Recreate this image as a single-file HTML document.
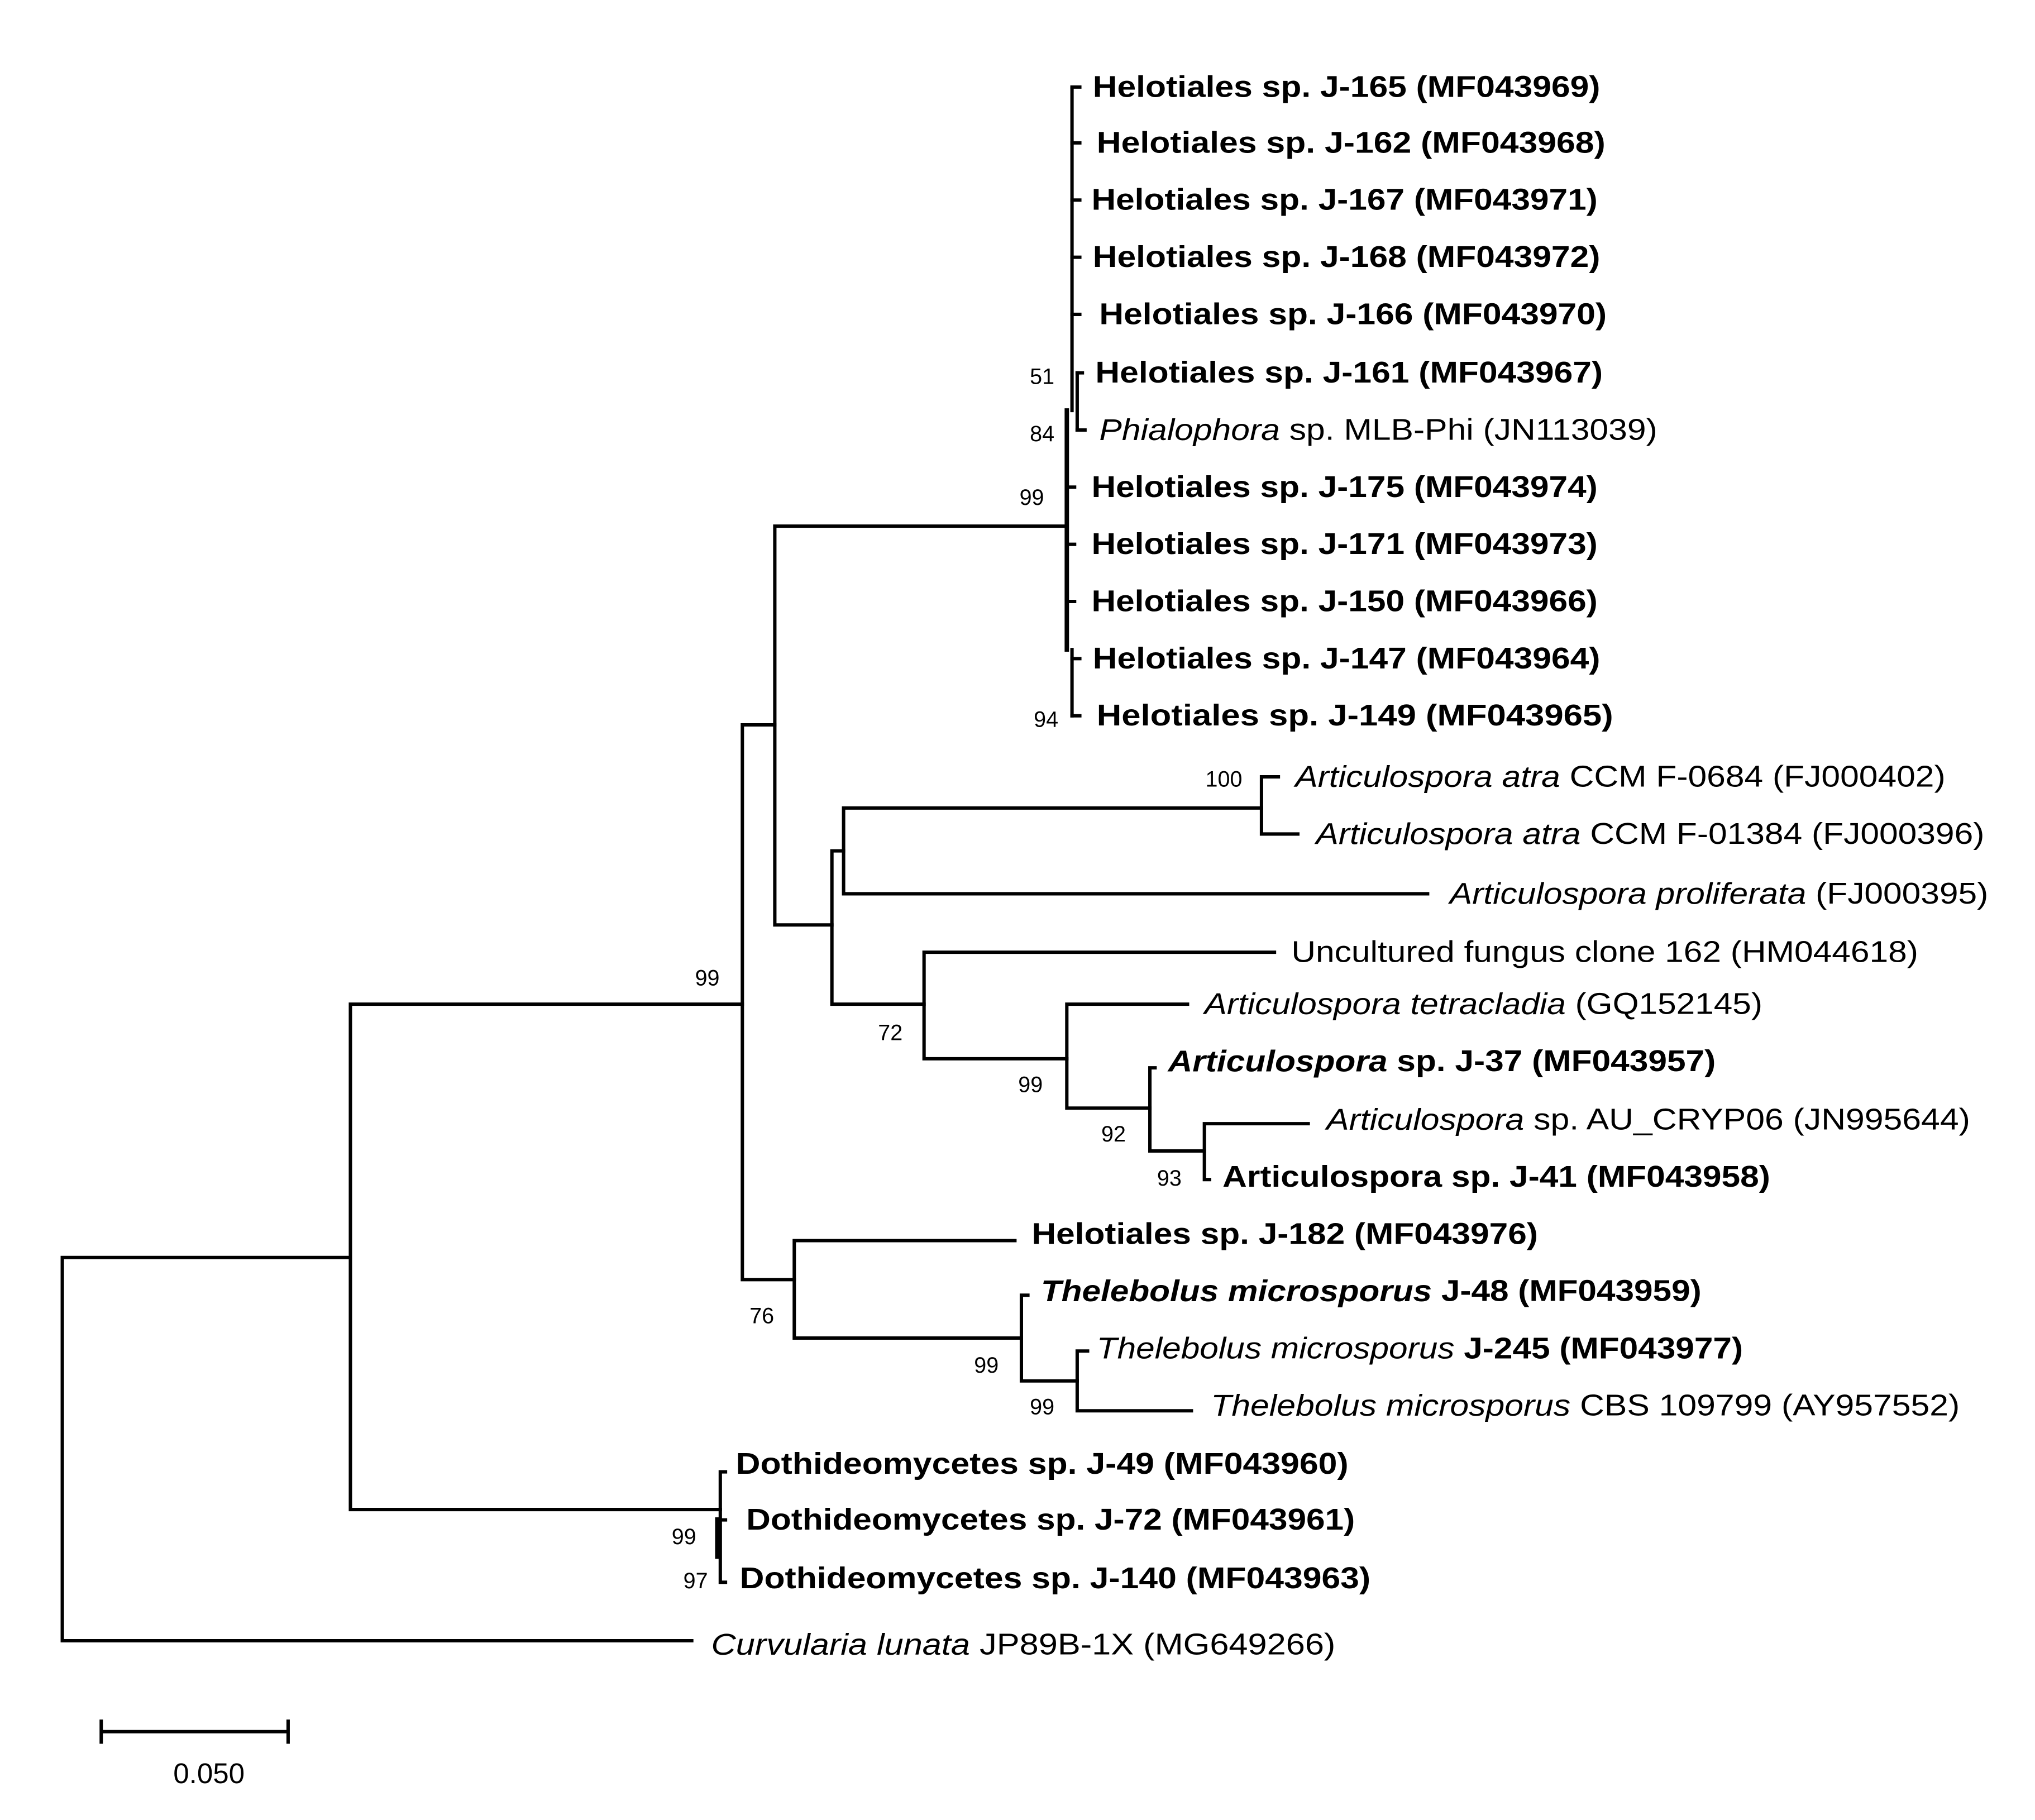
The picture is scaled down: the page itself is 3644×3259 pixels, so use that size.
<!DOCTYPE html>
<html><head><meta charset="utf-8"><style>
html,body{margin:0;padding:0;background:#fff;}
svg{display:block;}
text{font-family:"Liberation Sans",Arial,sans-serif;fill:#000;}
.l{font-size:23px;dominant-baseline:central;}
.b{font-weight:bold;}
.i{font-style:italic;}
.n{font-size:17px;dominant-baseline:central;text-anchor:middle;}
</style></head><body>
<svg width="3644" height="3259" viewBox="0 0 1568 1401" preserveAspectRatio="none" xmlns="http://www.w3.org/2000/svg">
<g stroke="#000" stroke-width="2.6" fill="none" stroke-linecap="square">
<path d="M48 968V1263M48 968H270M48 1263H533"/>
<path d="M270 773V1162M270 773H572M270 1162H555"/>
<path d="M572 558V985M572 558H597M572 985H612"/>
<path d="M597 405V712M597 405H822M597 712H641"/>
<path d="M822 316V500" stroke-width="3.4"/>
<path d="M826 68V316M826 500V551M830 287V331"/>
<path d="M826 67H832M826 110H832M826 154H832M826 198H832M826 242H832M830 287H834M830 331H836M822 375H828M822 419H828M822 463H828M826 507H832M826 551H832"/>
<path d="M641 655V773M641 655H650M641 773H712"/>
<path d="M650 622V688M650 622H972M650 688H1100"/>
<path d="M972 598V642M972 598H985M972 642H1000"/>
<path d="M712 733V815M712 733H982M712 815H822"/>
<path d="M822 773V853M822 773H915M822 853H886"/>
<path d="M886 822V886M886 822H890M886 886H928"/>
<path d="M928 865V908M928 865H1008M928 908H932"/>
<path d="M612 955V1030M612 955H782M612 1030H787"/>
<path d="M787 997V1063M787 997H792M787 1063H830"/>
<path d="M830 1040V1086M830 1040H838M830 1086H918"/>
<path d="M555 1133V1218M555 1133H559M555 1170H559M555 1218H559"/>
<path d="M553 1170V1198" stroke-width="4"/>
<path d="M78 1333H222M78 1325V1341M222 1325V1341"/>
</g>
<g>
<text class="l b" x="842" y="67" textLength="391" lengthAdjust="spacingAndGlyphs">Helotiales sp. J-165 (MF043969)</text>
<text class="l b" x="845" y="110" textLength="392" lengthAdjust="spacingAndGlyphs">Helotiales sp. J-162 (MF043968)</text>
<text class="l b" x="841" y="154" textLength="390" lengthAdjust="spacingAndGlyphs">Helotiales sp. J-167 (MF043971)</text>
<text class="l b" x="842" y="198" textLength="391" lengthAdjust="spacingAndGlyphs">Helotiales sp. J-168 (MF043972)</text>
<text class="l b" x="847" y="242" textLength="391" lengthAdjust="spacingAndGlyphs">Helotiales sp. J-166 (MF043970)</text>
<text class="l b" x="844" y="287" textLength="391" lengthAdjust="spacingAndGlyphs">Helotiales sp. J-161 (MF043967)</text>
<text class="l" x="847" y="331" textLength="430" lengthAdjust="spacingAndGlyphs"><tspan class="i">Phialophora</tspan> sp. MLB-Phi (JN113039)</text>
<text class="l b" x="841" y="375" textLength="390" lengthAdjust="spacingAndGlyphs">Helotiales sp. J-175 (MF043974)</text>
<text class="l b" x="841" y="419" textLength="390" lengthAdjust="spacingAndGlyphs">Helotiales sp. J-171 (MF043973)</text>
<text class="l b" x="841" y="463" textLength="390" lengthAdjust="spacingAndGlyphs">Helotiales sp. J-150 (MF043966)</text>
<text class="l b" x="842" y="507" textLength="391" lengthAdjust="spacingAndGlyphs">Helotiales sp. J-147 (MF043964)</text>
<text class="l b" x="845" y="551" textLength="398" lengthAdjust="spacingAndGlyphs">Helotiales sp. J-149  (MF043965)</text>
<text class="l" x="998" y="598" textLength="501" lengthAdjust="spacingAndGlyphs"><tspan class="i">Articulospora atra</tspan> CCM F-0684 (FJ000402)</text>
<text class="l" x="1014" y="642" textLength="515" lengthAdjust="spacingAndGlyphs"><tspan class="i">Articulospora atra</tspan> CCM F-01384 (FJ000396)</text>
<text class="l" x="1117" y="688" textLength="415" lengthAdjust="spacingAndGlyphs"><tspan class="i">Articulospora proliferata</tspan> (FJ000395)</text>
<text class="l" x="995" y="733" textLength="483" lengthAdjust="spacingAndGlyphs">Uncultured fungus clone 162 (HM044618)</text>
<text class="l" x="928" y="773" textLength="430" lengthAdjust="spacingAndGlyphs"><tspan class="i">Articulospora tetracladia</tspan> (GQ152145)</text>
<text class="l b" x="900" y="817" textLength="422" lengthAdjust="spacingAndGlyphs"><tspan class="i">Articulospora</tspan> sp. J-37 (MF043957)</text>
<text class="l" x="1022" y="862" textLength="496" lengthAdjust="spacingAndGlyphs"><tspan class="i">Articulospora</tspan> sp. AU_CRYP06 (JN995644)</text>
<text class="l b" x="942" y="906" textLength="422" lengthAdjust="spacingAndGlyphs">Articulospora sp. J-41 (MF043958)</text>
<text class="l b" x="795" y="950" textLength="390" lengthAdjust="spacingAndGlyphs">Helotiales sp. J-182 (MF043976)</text>
<text class="l b" x="802" y="994" textLength="509" lengthAdjust="spacingAndGlyphs"><tspan class="i">Thelebolus microsporus</tspan> J-48 (MF043959)</text>
<text class="l" x="845" y="1038" textLength="498" lengthAdjust="spacingAndGlyphs"><tspan class="i">Thelebolus microsporus</tspan> <tspan class="b">J-245 (MF043977)</tspan></text>
<text class="l" x="933" y="1082" textLength="577" lengthAdjust="spacingAndGlyphs"><tspan class="i">Thelebolus microsporus</tspan> CBS 109799 (AY957552)</text>
<text class="l b" x="567" y="1127" textLength="472" lengthAdjust="spacingAndGlyphs">Dothideomycetes sp. J-49 (MF043960)</text>
<text class="l b" x="575" y="1170" textLength="469" lengthAdjust="spacingAndGlyphs">Dothideomycetes sp. J-72 (MF043961)</text>
<text class="l b" x="570" y="1215" textLength="486" lengthAdjust="spacingAndGlyphs">Dothideomycetes sp. J-140 (MF043963)</text>
<text class="l" x="548" y="1266" textLength="481" lengthAdjust="spacingAndGlyphs"><tspan class="i">Curvularia lunata</tspan> JP89B-1X  (MG649266)</text>
</g>
<g>
<text class="n" x="803" y="290">51</text>
<text class="n" x="803" y="334">84</text>
<text class="n" x="795" y="383">99</text>
<text class="n" x="806" y="554">94</text>
<text class="n" x="943" y="600">100</text>
<text class="n" x="545" y="753">99</text>
<text class="n" x="686" y="795">72</text>
<text class="n" x="794" y="835">99</text>
<text class="n" x="858" y="873">92</text>
<text class="n" x="901" y="907">93</text>
<text class="n" x="587" y="1013">76</text>
<text class="n" x="760" y="1051">99</text>
<text class="n" x="803" y="1083">99</text>
<text class="n" x="527" y="1183">99</text>
<text class="n" x="536" y="1217">97</text>
<text class="n" x="161" y="1365" style="font-size:22px">0.050</text>
</g>
</svg>
</body></html>
